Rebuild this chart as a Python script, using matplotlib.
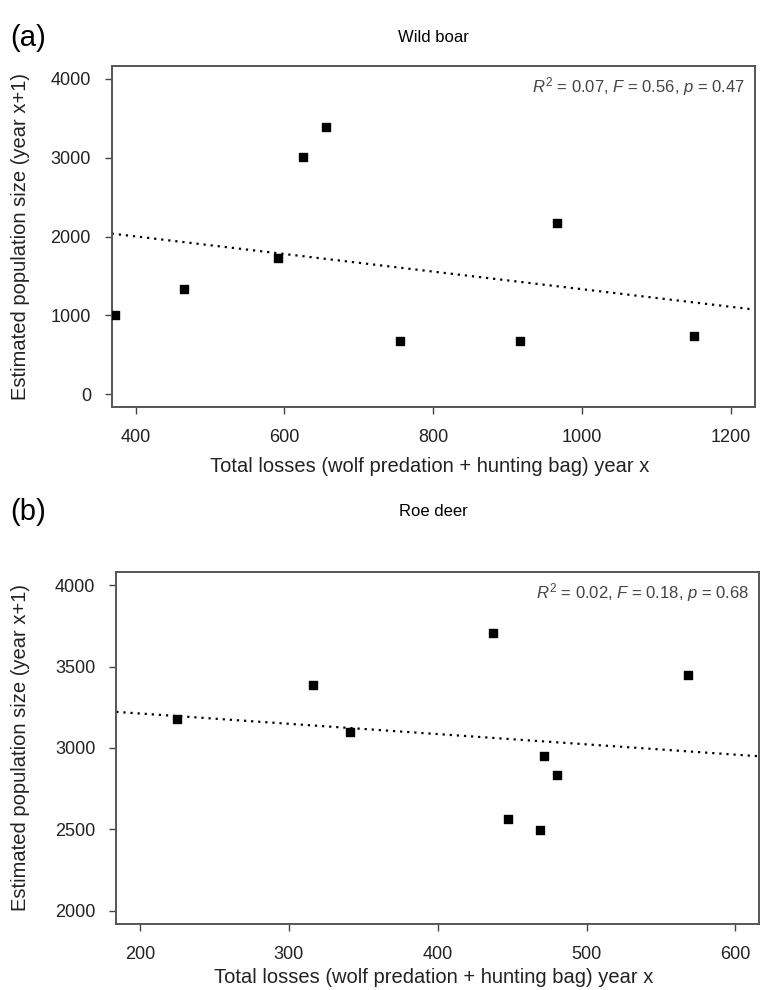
import numpy as np
import matplotlib.pyplot as plt

plt.rcParams['font.family'] = ['Liberation Sans', 'DejaVu Sans']
plt.rcParams['mathtext.fontset'] = 'custom'
plt.rcParams['mathtext.rm'] = 'Liberation Sans'
plt.rcParams['mathtext.it'] = 'Liberation Sans:italic'

# wild boar: total losses year x vs population year x+1
boar_x = [373, 465, 592, 625, 656, 756, 917, 966, 1150]
boar_y = [1000, 1339, 1727, 3006, 3390, 670, 670, 2175, 742]
boar_fit = [2449, -1.116]  # intercept, slope
boar_xticks = [400, 600, 800, 1000, 1200]
boar_yticks = [0, 1000, 2000, 3000, 4000]
boar_stats = r'$R^2$ = 0.07, $F$ = 0.56, $p$ = 0.47'

# roe deer
roe_x = [224.6, 316.3, 341.3, 437, 447.4, 468.4, 471.5, 480, 568]
roe_y = [3175, 3388, 3097, 3708, 2563, 2495, 2949, 2836, 3446]
roe_fit = [3338, -0.632]
roe_xticks = [200, 300, 400, 500, 600]
roe_yticks = [2000, 2500, 3000, 3500, 4000]
roe_stats = r'$R^2$ = 0.02, $F$ = 0.18, $p$ = 0.68'

xlab = 'Total losses (wolf predation + hunting bag) year x'
ylab = 'Estimated population size (year x+1)'

fig = plt.figure(figsize=(7.6, 9.9), dpi=100)
ax1 = fig.add_axes([0.147, 0.589, 0.846, 0.344])
ax2 = fig.add_axes([0.153, 0.067, 0.846, 0.355])


def panel(ax, x, y, fit, xt, yt, stats, xlab_y):
    # R-like 4% padding around the tick range
    xr = xt[-1] - xt[0]
    yr = yt[-1] - yt[0]
    ax.set_xlim(xt[0] - 0.04 * xr, xt[-1] + 0.04 * xr)
    ax.set_ylim(yt[0] - 0.04 * yr, yt[-1] + 0.04 * yr)
    xx = np.array(ax.get_xlim())
    ax.plot(xx, fit[0] + fit[1] * xx, color='black', linestyle=(0, (1, 2.2)), lw=1.6)
    ax.scatter(x, y, marker='s', s=30, color='black', zorder=3)
    ax.set_xticks(xt)
    ax.set_yticks(yt)
    ax.tick_params(direction='out', length=5, width=1, color='#444444',
                   labelsize=13, labelcolor='#222222', pad=10)
    ax.tick_params(axis='x', pad=11)
    for s in ax.spines.values():
        s.set_color('#555555')
        s.set_linewidth(1.4)
    pos = ax.get_position()
    ax.set_xlabel(xlab, fontsize=14.5, color='#222222', va='top')
    ax.xaxis.set_label_coords(pos.x0 + pos.width / 2 - 0.005, xlab_y,
                              transform=fig.transFigure)
    ax.set_ylabel(ylab, fontsize=14.5, color='#222222', va='center')
    ax.yaxis.set_label_coords(0.027, pos.y0 + pos.height / 2,
                              transform=fig.transFigure)
    ax.text(0.985, 0.975, stats, transform=ax.transAxes, ha='right', va='top',
            fontsize=12, color='#444444')


panel(ax1, boar_x, boar_y, boar_fit, boar_xticks, boar_yticks, boar_stats, 0.538)
panel(ax2, roe_x, roe_y, roe_fit, roe_xticks, roe_yticks, roe_stats, 0.022)

fig.text(0.014, 0.962, '(a)', fontsize=21, va='center', ha='left')
fig.text(0.57, 0.962, 'Wild boar', fontsize=12, va='center', ha='center')
fig.text(0.014, 0.483, '(b)', fontsize=21, va='center', ha='left')
fig.text(0.57, 0.483, 'Roe deer', fontsize=12, va='center', ha='center')

fig.savefig('out.png', dpi=100)
